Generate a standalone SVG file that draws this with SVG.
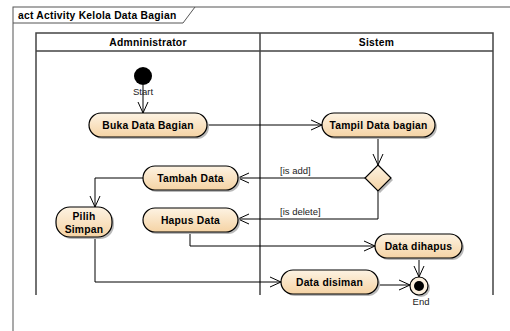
<svg xmlns="http://www.w3.org/2000/svg" width="510" height="331" viewBox="0 0 510 331">
  <defs>
    <linearGradient id="actFill" x1="0" y1="0" x2="0" y2="1">
      <stop offset="0" stop-color="#fdf3e3"/>
      <stop offset="1" stop-color="#f5d3a4"/>
    </linearGradient>
    <marker id="open" viewBox="0 0 12 12" refX="11" refY="6" markerWidth="12" markerHeight="12" markerUnits="userSpaceOnUse" orient="auto">
      <path d="M0,1 L11,6 L0,11" fill="none" stroke="#000" stroke-width="1"/>
    </marker>
  </defs>
  <style>
    .frame { fill: none; stroke: #555; stroke-width: 1; }
    .lane { fill: none; stroke: #444; stroke-width: 1.5; }
    .act { fill: url(#actFill); stroke: #000; stroke-width: 1.2; }
    .shadow { fill: #b9b9b9; stroke: none; }
    .edge { fill: none; stroke: #000; stroke-width: 1; marker-end: url(#open); }
    .t { font-family: "Liberation Sans", Arial, sans-serif; font-size: 10.3px; font-weight: bold; letter-spacing: 0.25px; fill: #000; }
    .mid { text-anchor: middle; }
    .small { font-family: "Liberation Sans", Arial, sans-serif; font-size: 9.5px; fill: #222; }
  </style>

  <rect width="510" height="331" fill="#fff"/>

  <!-- diagram frame with name tab -->
  <g id="frame">
    <rect class="frame" x="13" y="7" width="600" height="400"/>
    <path class="frame" d="M13,23 H183 L195,7"/>
    <text class="t" x="18" y="19">act Activity Kelola Data Bagian</text>
  </g>

  <!-- partitions -->
  <g id="partitions">
    <path class="lane" d="M36,295 V33 H493 V295 M36,51 H493 M260,33 V295"/>
    <text class="t mid" x="148" y="46">Admninistrator</text>
    <text class="t mid" x="376.5" y="46">Sistem</text>
  </g>

  <!-- control flows -->
  <g id="connectors">
    <path class="edge" d="M143,85 V113"/>
    <path class="edge" d="M207,125 H322"/>
    <path class="edge" d="M378,137 V165"/>
    <path class="edge" d="M365,178 H238"/>
    <path class="edge" d="M378,191 V219 H238"/>
    <path class="edge" d="M143,178 H95 V207"/>
    <path class="edge" d="M190,232 V246 H375"/>
    <path class="edge" d="M419,259 V277"/>
    <path class="edge" d="M95,237 V282 H281"/>
    <path class="edge" d="M379,285 H410"/>
    <text class="small" x="280" y="174">[is add]</text>
    <text class="small" x="280" y="215">[is delete]</text>
  </g>

  <g id="start">
    <circle cx="143" cy="76" r="9" fill="#000"/>
    <text class="small mid" x="143" y="95">Start</text>
  </g>

  <g id="buka-data-bagian">
    <rect class="shadow" x="91" y="115" width="118" height="24" rx="12"/>
    <rect class="act" x="89" y="113" width="118" height="24" rx="12"/>
    <text class="t mid" x="148" y="129">Buka Data Bagian</text>
  </g>

  <g id="tampil-data-bagian">
    <rect class="shadow" x="324" y="115" width="113" height="24" rx="12"/>
    <rect class="act" x="322" y="113" width="113" height="24" rx="12"/>
    <text class="t mid" x="378.5" y="129">Tampil Data bagian</text>
  </g>

  <g id="decision">
    <path class="shadow" d="M380,167 L393,180 L380,193 L367,180 Z"/>
    <path class="act" d="M378,165 L391,178 L378,191 L365,178 Z"/>
  </g>

  <g id="tambah-data">
    <rect class="shadow" x="145" y="168" width="95" height="24" rx="12"/>
    <rect class="act" x="143" y="166" width="95" height="24" rx="12"/>
    <text class="t mid" x="190.5" y="182">Tambah Data</text>
  </g>

  <g id="hapus-data">
    <rect class="shadow" x="145" y="210" width="95" height="24" rx="12"/>
    <rect class="act" x="143" y="208" width="95" height="24" rx="12"/>
    <text class="t mid" x="190.5" y="224">Hapus Data</text>
  </g>

  <g id="pilih-simpan">
    <rect class="shadow" x="58" y="209" width="56" height="30" rx="14"/>
    <rect class="act" x="56" y="207" width="56" height="30" rx="14"/>
    <text class="t mid" x="84" y="220">Pilih</text>
    <text class="t mid" x="84" y="233">Simpan</text>
  </g>

  <g id="data-dihapus">
    <rect class="shadow" x="377" y="236" width="87" height="24" rx="12"/>
    <rect class="act" x="375" y="234" width="87" height="24" rx="12"/>
    <text class="t mid" x="418.5" y="250">Data dihapus</text>
  </g>

  <g id="data-disiman">
    <rect class="shadow" x="283" y="272" width="97" height="24" rx="12"/>
    <rect class="act" x="281" y="270" width="97" height="24" rx="12"/>
    <text class="t mid" x="329.5" y="286">Data disiman</text>
  </g>

  <g id="end">
    <circle cx="421" cy="288" r="9" class="shadow"/>
    <circle cx="419" cy="286" r="9" fill="#fcf0de" stroke="#000" stroke-width="1.2"/>
    <circle cx="419" cy="286" r="5" fill="#000"/>
    <text class="small mid" x="421" y="305">End</text>
  </g>
</svg>
